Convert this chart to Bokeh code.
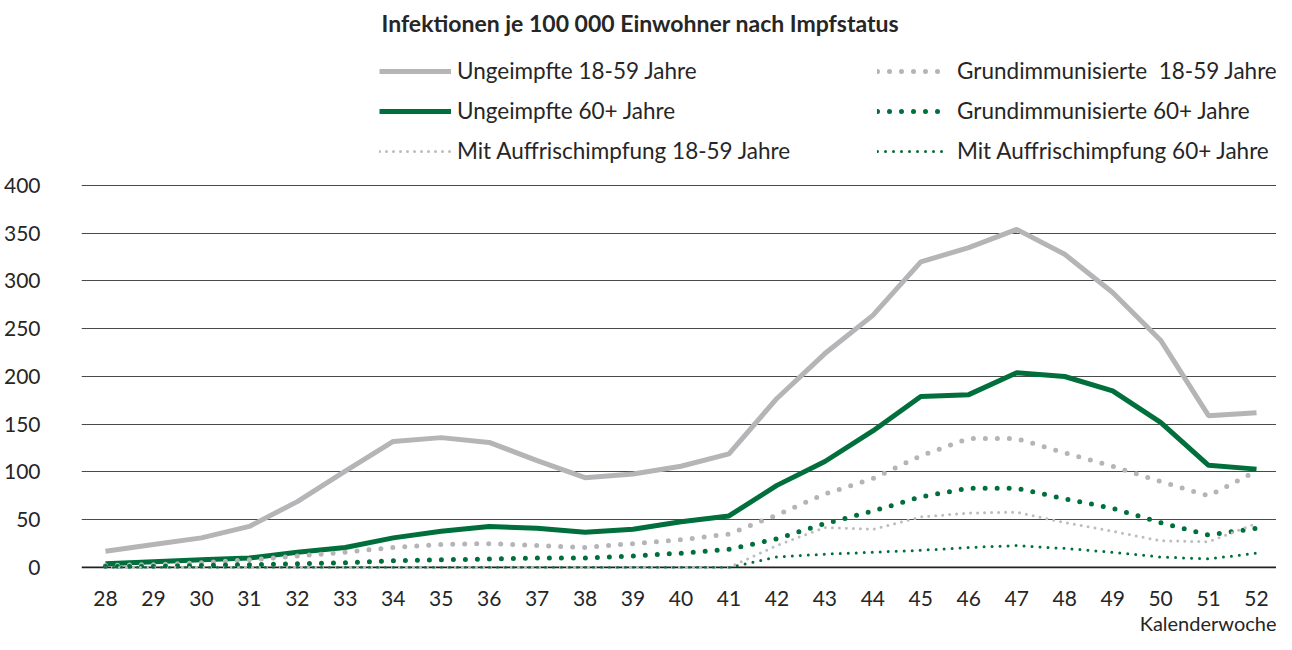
from bokeh.plotting import figure
from bokeh.models import (ColumnDataSource, Range1d, FixedTicker, Legend, LegendItem,
                          Label, Span, Title)
from bokeh.embed import file_html
from bokeh.resources import INLINE

FONT = "Lato"
TXT = "#262626"
GREY = "#b5b5b8"
GREEN = "#006f3b"

weeks = list(range(28, 53))
ungeimpft_18_59 = [17, 24, 31, 43, 69, 101, 132, 136, 131, 112, 94, 98, 106, 119,
                   177, 224, 264, 320, 335, 354, 328, 288, 238, 159, 162]
ungeimpft_60 = [4, 6, 8, 10, 16, 21, 31, 38, 43, 41, 37, 40, 48, 54,
                86, 111, 143, 179, 181, 204, 200, 185, 152, 107, 103]
grund_18_59 = [2, 3, 5, 8, 12, 16, 21, 24, 25, 23, 21, 25, 29, 35,
               55, 77, 93, 117, 135, 135, 120, 106, 90, 75, 101]
grund_60 = [1, 1, 2, 3, 4, 5, 7, 8, 9, 10, 10, 12, 15, 19,
            30, 46, 59, 74, 83, 83, 72, 62, 47, 34, 41]
auffr_18_59 = [0, 0, 0, 0, 0, 0, 0, 0, 0, 0, 0, 0, 0, 0,
               23, 42, 40, 53, 57, 58, 47, 38, 28, 27, 46]
auffr_60 = [0, 0, 0, 0, 0, 0, 0, 0, 0, 0, 0, 0, 0, 0,
            11, 14, 16, 18, 21, 23, 20, 16, 11, 9, 15]
y_ticks = [0, 50, 100, 150, 200, 250, 300, 350, 400]

src = ColumnDataSource(dict(week=weeks, u1859=ungeimpft_18_59, u60=ungeimpft_60,
                            g1859=grund_18_59, g60=grund_60,
                            a1859=auffr_18_59, a60=auffr_60))

H = 634
BOTTOM = 66
frame_h = H - BOTTOM
px_per_unit = 0.955
y0 = -1.05
y1 = y0 + frame_h / px_per_unit
frame_w = 1276 - 80

p = figure(width=1276, height=H, x_range=Range1d(27.5, 27.5 + frame_w / 48),
           y_range=Range1d(y0, y1),
           output_backend="svg", toolbar_location=None,
           min_border_left=80, min_border_right=0, min_border_top=0,
           min_border_bottom=BOTTOM)
p.outline_line_color = None
p.background_fill_color = "white"
p.border_fill_color = "white"

# grid
p.xgrid.grid_line_color = None
p.ygrid.ticker = FixedTicker(ticks=y_ticks[1:])
p.ygrid.grid_line_color = "#4a4a4a"
p.ygrid.grid_line_width = 1.2
p.add_layout(Span(location=0, dimension="width", line_color="#222222", line_width=2.2,
                  level="underlay"))

# axes
for ax in (p.xaxis[0], p.yaxis[0]):
    ax.axis_line_color = None
    ax.major_tick_line_color = None
    ax.minor_tick_line_color = None
    ax.major_label_text_font = FONT
    ax.major_label_text_font_size = "21px"
    ax.major_label_text_color = TXT
p.xaxis.ticker = FixedTicker(ticks=weeks)
p.xaxis.major_label_standoff = 16
p.yaxis.ticker = FixedTicker(ticks=y_ticks)
p.yaxis.major_label_standoff = 35

# series
r_u1859 = p.line("week", "u1859", source=src, line_color=GREY, line_width=5)
r_u60 = p.line("week", "u60", source=src, line_color=GREEN, line_width=5)
r_g1859 = p.line("week", "g1859", source=src, line_color=GREY, line_width=5,
                 line_dash="0 12", line_cap="round")
r_g60 = p.line("week", "g60", source=src, line_color=GREEN, line_width=5,
               line_dash="0 12", line_cap="round")
r_a1859 = p.line("week", "a1859", source=src, line_color="#bdbdbd", line_width=3,
                 line_dash="0 7", line_cap="round")
r_a60 = p.line("week", "a60", source=src, line_color=GREEN, line_width=3,
               line_dash="0 8", line_cap="round")

def make_legend(items, loc, gw, standoff):
    lg = Legend(items=items, location=loc, orientation="vertical",
                glyph_width=gw, glyph_height=26, spacing=13, padding=0, margin=0,
                label_standoff=standoff, label_text_font=FONT,
                label_text_font_size="22.5px", label_text_color=TXT,
                border_line_color=None, background_fill_alpha=0)
    p.add_layout(lg, "center")

LEG_BOTTOM = frame_h - 164
make_legend([LegendItem(label="Ungeimpfte 18-59 Jahre", renderers=[r_u1859]),
             LegendItem(label="Ungeimpfte 60+ Jahre", renderers=[r_u60]),
             LegendItem(label="Mit Auffrischimpfung 18-59 Jahre", renderers=[r_a1859])],
            (298, LEG_BOTTOM), 72, 6)
make_legend([LegendItem(label="Grundimmunisierte  18-59 Jahre", renderers=[r_g1859]),
             LegendItem(label="Grundimmunisierte 60+ Jahre", renderers=[r_g60]),
             LegendItem(label="Mit Auffrischimpfung 60+ Jahre", renderers=[r_a60])],
            (796, LEG_BOTTOM), 66, 14)

p.add_layout(Label(x=300, y=frame_h - 22, x_units="screen", y_units="screen",
                   text="Infektionen je 100 000 Einwohner nach Impfstatus",
                   text_font=FONT, text_font_style="bold", text_font_size="23px",
                   text_color=TXT, text_baseline="middle", text_align="left"))

p.add_layout(Title(text="Kalenderwoche", align="right", text_font=FONT,
                   text_font_size="20px", text_font_style="normal",
                   text_color=TXT, standoff=0), "below")

open("out.html", "w").write(file_html(p, INLINE))
